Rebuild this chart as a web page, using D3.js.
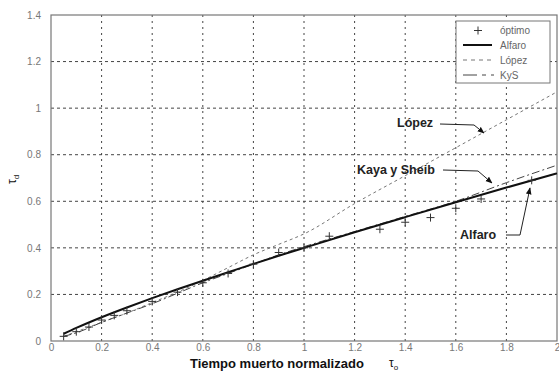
<!DOCTYPE html>
<html>
<head>
<meta charset="utf-8">
<script src="https://cdn.jsdelivr.net/npm/d3@7"></script>
<style>
  html, body { margin: 0; padding: 0; background: #fff; }
  svg { display: block; font-family: "Liberation Sans", Arial, sans-serif; }
</style>
</head>
<body>
<svg id="chart" width="559" height="381"></svg>
<script>
// Normalized dead time (x) and normalized derivative time (y)
const optimoX = [0.05, 0.1, 0.15, 0.2, 0.25, 0.3, 0.4, 0.5, 0.6, 0.7, 0.8, 0.9, 1.0, 1.1, 1.3, 1.4, 1.5, 1.6, 1.7, 1.9];
const optimoY = [0.02, 0.04, 0.06, 0.09, 0.11, 0.13, 0.17, 0.21, 0.25, 0.29, 0.33, 0.38, 0.40, 0.45, 0.48, 0.51, 0.53, 0.57, 0.61, 0.69];

const curveX = [0.05, 0.1, 0.2, 0.3, 0.4, 0.5, 0.6, 0.7, 0.8, 0.9, 1.0, 1.2, 1.4, 1.6, 1.8, 2.0];
const alfaroY = [0.031, 0.056, 0.102, 0.144, 0.184, 0.222, 0.259, 0.295, 0.331, 0.366, 0.40, 0.467, 0.532, 0.596, 0.659, 0.72];
const lopezY  = [0.02, 0.04, 0.08, 0.12, 0.165, 0.21, 0.26, 0.315, 0.37, 0.415, 0.46, 0.59, 0.71, 0.83, 0.95, 1.07];
const kysY    = [0.02, 0.035, 0.08, 0.12, 0.16, 0.205, 0.25, 0.29, 0.33, 0.37, 0.405, 0.47, 0.535, 0.60, 0.68, 0.755];

const xTicks = [0, 0.2, 0.4, 0.6, 0.8, 1, 1.2, 1.4, 1.6, 1.8, 2];
const yTicks = [0, 0.2, 0.4, 0.6, 0.8, 1, 1.2, 1.4];
const legendNames = ["óptimo", "Alfaro", "López", "KyS"];

const svg = d3.select("#chart");
const margin = { left: 51, top: 15, right: 2, bottom: 40 };
const W = 559, H = 381;
const x = d3.scaleLinear().domain([0, 2]).range([margin.left, W - margin.right]);
const y = d3.scaleLinear().domain([0, 1.4]).range([H - margin.bottom, margin.top]);

const gridColor = "#444";
const frameColor = "#777";
const tickColor = "#777";

// grid
const grid = svg.append("g");
grid.selectAll(".gx").data(xTicks.slice(1, -1)).join("line")
  .attr("x1", d => x(d)).attr("x2", d => x(d))
  .attr("y1", y(0)).attr("y2", y(1.4))
  .attr("stroke", gridColor).attr("stroke-width", 1)
  .attr("stroke-dasharray", "2,4");
grid.selectAll(".gy").data(yTicks.slice(1, -1)).join("line")
  .attr("x1", x(0)).attr("x2", x(2))
  .attr("y1", d => y(d)).attr("y2", d => y(d))
  .attr("stroke", gridColor).attr("stroke-width", 1)
  .attr("stroke-dasharray", "3,3");

// axes using d3 axis generators
const xAxis = svg.append("g").attr("transform", `translate(0,${y(0)})`)
  .call(d3.axisBottom(x).tickValues(xTicks).tickSize(0).tickPadding(3).tickFormat(d3.format("~g")));
const yAxis = svg.append("g").attr("transform", `translate(${x(0)},0)`)
  .call(d3.axisLeft(y).tickValues(yTicks).tickSize(0).tickPadding(10).tickFormat(d3.format("~g")));
[xAxis, yAxis].forEach(a => {
  a.select(".domain").remove();
  a.selectAll("text").attr("fill", tickColor).attr("font-size", 10)
    .attr("font-family", "'Liberation Sans', Arial, sans-serif");
});

// plot frame
svg.append("rect")
  .attr("x", x(0)).attr("y", y(1.4))
  .attr("width", x(2) - x(0)).attr("height", y(0) - y(1.4))
  .attr("fill", "none").attr("stroke", frameColor).attr("stroke-width", 1.2);

// curves
const line = d3.line().x(d => x(d[0])).y(d => y(d[1])).curve(d3.curveMonotoneX);
const plot = svg.append("g");
plot.append("path").datum(d3.zip(curveX, lopezY)).attr("d", line)
  .attr("fill", "none").attr("stroke", "#777").attr("stroke-width", 1)
  .attr("stroke-dasharray", "3,3");
plot.append("path").datum(d3.zip(curveX, kysY)).attr("d", line)
  .attr("fill", "none").attr("stroke", "#444").attr("stroke-width", 1)
  .attr("stroke-dasharray", "8,3,2,3");
plot.append("path").datum(d3.zip(curveX, alfaroY)).attr("d", line)
  .attr("fill", "none").attr("stroke", "#111").attr("stroke-width", 2);
plot.selectAll(".opt").data(d3.zip(optimoX, optimoY)).join("path")
  .attr("d", d => `M${x(d[0]) - 4},${y(d[1])}h8M${x(d[0])},${y(d[1]) - 4}v8`)
  .attr("stroke", "#333").attr("stroke-width", 1);

// legend
const lg = svg.append("g");
lg.append("rect").attr("x", 456).attr("y", 21).attr("width", 94).attr("height", 62)
  .attr("fill", "#fff").attr("stroke", "#777").attr("stroke-width", 1);
const rows = [30.5, 45, 60, 75];
lg.append("path").attr("d", `M${478 - 4},${rows[0]}h8M478,${rows[0] - 4}v8`)
  .attr("stroke", "#333").attr("stroke-width", 1);
lg.append("line").attr("x1", 463).attr("x2", 492).attr("y1", rows[1]).attr("y2", rows[1])
  .attr("stroke", "#111").attr("stroke-width", 2);
lg.append("line").attr("x1", 463).attr("x2", 492).attr("y1", rows[2]).attr("y2", rows[2])
  .attr("stroke", "#777").attr("stroke-width", 1).attr("stroke-dasharray", "4,4");
lg.append("line").attr("x1", 463).attr("x2", 494).attr("y1", rows[3]).attr("y2", rows[3])
  .attr("stroke", "#444").attr("stroke-width", 1).attr("stroke-dasharray", "14,5,4,5");
lg.selectAll(".lt").data(legendNames).join("text")
  .attr("x", 500).attr("y", (d, i) => rows[i] + 3.5)
  .attr("font-size", 10).attr("fill", "#666").text(d => d);

// annotations with arrows
svg.append("defs").append("marker").attr("id", "arr")
  .attr("viewBox", "0 0 10 10").attr("refX", 9).attr("refY", 5)
  .attr("markerWidth", 7).attr("markerHeight", 7).attr("orient", "auto")
  .append("path").attr("d", "M0,1L10,5L0,9Z").attr("fill", "#111");

const notes = [
  { text: "López", tx: 397, ty: 127, path: [[440, 124], [474, 125], [484, 133]] },
  { text: "Kaya y Sheib", tx: 357, ty: 174, path: [[443, 170], [478, 171], [492, 183]] },
  { text: "Alfaro", tx: 460, ty: 239, path: [[506, 235], [520, 235], [530, 188]] }
];
notes.forEach(n => {
  svg.append("text").attr("x", n.tx).attr("y", n.ty)
    .attr("font-size", 12.5).attr("font-weight", "bold").attr("fill", "#222").text(n.text);
  svg.append("path").attr("d", d3.line()(n.path))
    .attr("fill", "none").attr("stroke", "#222").attr("stroke-width", 1)
    .attr("marker-end", "url(#arr)");
});

// axis titles
svg.append("text").attr("x", 190).attr("y", 368)
  .attr("font-size", 13).attr("font-weight", "bold").attr("fill", "#111")
  .text("Tiempo muerto normalizado");
const tx = svg.append("text").attr("x", 389).attr("y", 367)
  .attr("font-size", 12).attr("fill", "#111");
tx.append("tspan").text("τ");
tx.append("tspan").attr("font-size", 8).attr("dy", 3).text("o");

const ty = svg.append("text").attr("transform", "translate(16,184) rotate(-90)")
  .attr("font-size", 12).attr("fill", "#111");
ty.append("tspan").text("τ");
ty.append("tspan").attr("font-size", 8).attr("dy", 3).text("d");
</script>
</body>
</html>
